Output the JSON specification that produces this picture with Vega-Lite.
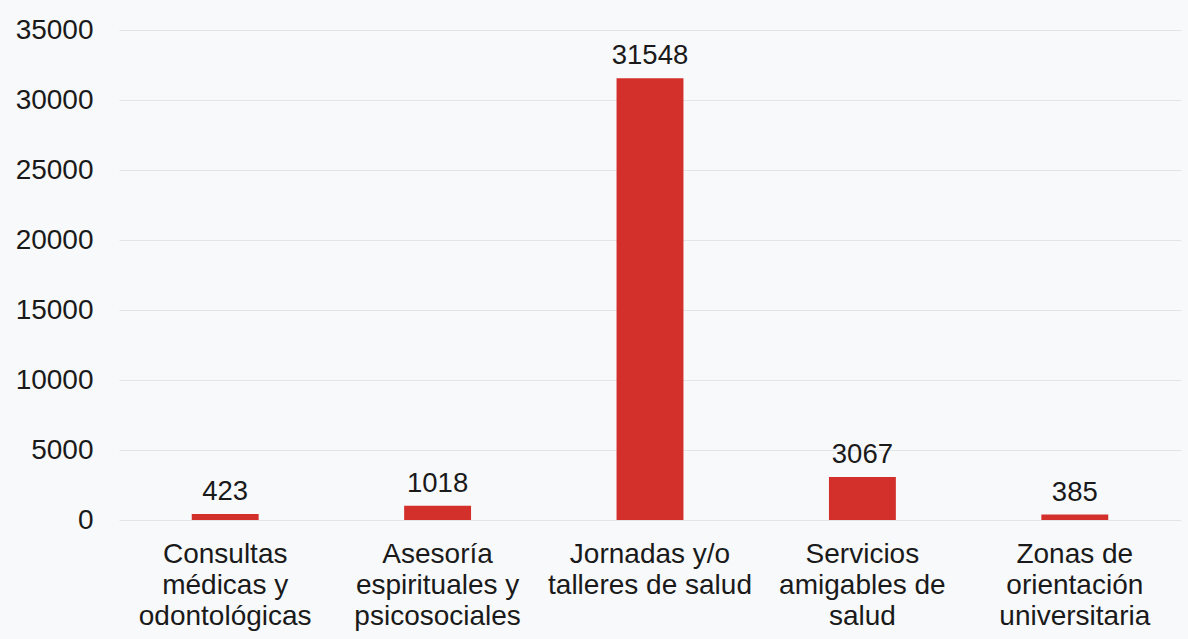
{
  "$schema": "https://vega.github.io/schema/vega-lite/v6.json",
  "width": 1062,
  "height": 490,
  "autosize": "none",
  "padding": {"left": 119, "top": 30, "right": 7, "bottom": 119},
  "background": "#f8f9fa",
  "config": {"view": {"stroke": null}, "font": "Liberation Sans"},
  "data": {
    "values": [
      {"categoria": "Consultas\nmédicas y\nodontológicas", "valor": 423},
      {"categoria": "Asesoría\nespirituales y\npsicosociales", "valor": 1018},
      {"categoria": "Jornadas y/o\ntalleres de salud", "valor": 31548},
      {"categoria": "Servicios\namigables de\nsalud", "valor": 3067},
      {"categoria": "Zonas de\norientación\nuniversitaria", "valor": 385}
    ]
  },
  "encoding": {
    "x": {
      "field": "categoria",
      "type": "nominal",
      "sort": null,
      "scale": {"paddingInner": 0.685, "paddingOuter": 0.3425},
      "axis": {
        "title": null,
        "labelAngle": 0,
        "ticks": false,
        "domain": false,
        "labelFontSize": 28,
        "labelLineHeight": 31,
        "labelPadding": 20,
        "labelColor": "#1a1a1a",
        "labelLimit": 0,
        "labelOverlap": false,
        "labelExpr": "split(datum.label, '\\n')"
      }
    },
    "y": {
      "field": "valor",
      "type": "quantitative",
      "scale": {"domain": [0, 35000], "nice": false},
      "axis": {
        "title": null,
        "values": [0, 5000, 10000, 15000, 20000, 25000, 30000, 35000],
        "format": "d",
        "ticks": false,
        "domain": false,
        "gridColor": "#e2e4e6",
        "labelFontSize": 28,
        "labelPadding": 26,
        "labelColor": "#1a1a1a"
      }
    }
  },
  "layer": [
    {"mark": {"type": "bar", "color": "#d3302b"}},
    {
      "mark": {"type": "text", "baseline": "bottom", "dy": -8, "fontSize": 27.5, "color": "#1a1a1a"},
      "encoding": {"text": {"field": "valor", "type": "quantitative", "format": "d"}}
    }
  ]
}
